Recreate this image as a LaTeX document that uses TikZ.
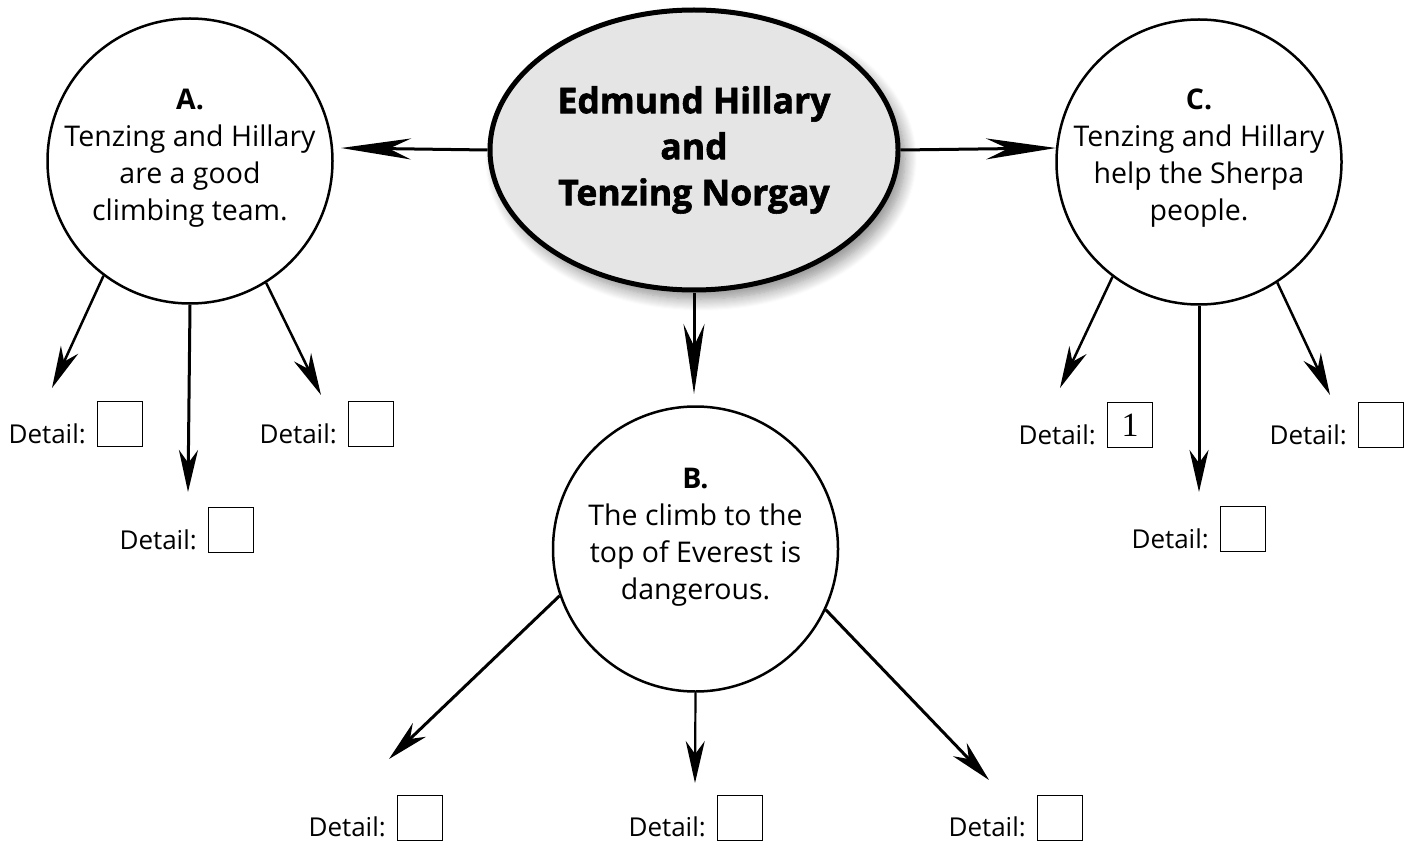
\documentclass[tikz,border=0pt]{standalone}
\usepackage{fontspec}
\setmainfont{Open Sans}
\newfontfamily\titlefont[BoldFeatures={FakeBold=1.6}]{Open Sans}
\newfontfamily\numfont{Liberation Serif}
\usetikzlibrary{arrows.meta,shapes.geometric,shadows.blur}
\begin{document}
\begin{tikzpicture}[x=1pt,y=-1pt,
  bubble/.style={circle, draw, line width=2.5pt, minimum size=285pt, inner sep=0pt, fill=white},
  bubtext/.style={align=center, font=\fontsize{28.5}{37}\selectfont, inner sep=0pt},
  title/.style={ellipse, draw, line width=5pt, fill=black!10, minimum width=408pt, minimum height=280pt, inner sep=0pt,
     align=center, font=\titlefont\fontsize{35.5}{46}\selectfont\bfseries,
     blur shadow={shadow xshift=7pt, shadow yshift=-9pt, shadow blur radius=12pt, shadow blur steps=12, shadow opacity=45}},
  answerbox/.style={draw, line width=1.3pt, minimum size=45pt, inner sep=0pt, anchor=north west},
  detail/.style={anchor=base east, font=\fontsize{26}{30}\selectfont, inner sep=0pt},
  thin/.style={line width=2.5pt, -{Stealth[length=42pt,width=19pt,inset=13pt]}},
  big/.style={line width=3pt, -{Stealth[length=70pt,width=21pt,inset=22pt]}},
  midline/.style={line width=3pt, -{Stealth[length=42pt,width=19pt,inset=13pt]}}]
\useasboundingbox (0,0) rectangle (1412,842);

% title
\node[title] (E) at (694,150) {Edmund Hillary\\and\\Tenzing Norgay};

% bubbles
\node[bubble] (A) at (190,161) {};
\node[bubtext] (At) at (190,158) {\textbf{A.}\\Tenzing and Hillary\\are a good\\climbing team.};
\node[bubble] (C) at (1199,162) {};
\node[bubtext] (Ct) at (1199,158) {\textbf{C.}\\Tenzing and Hillary\\help the Sherpa\\people.};
\node[bubble] (B) at (695.5,549) {};
\node[bubtext] (Bt) at (695.5,537) {\textbf{B.}\\The climb to the\\top of Everest is\\dangerous.};

% arrow tips
\coordinate (tl) at (341,148);
\coordinate (tr) at (1056,148);
\coordinate (td) at (694,394);
\draw[big] (E.west) -- (tl);
\draw[big] (E.east) -- (tr);
\draw[big] (E.south) -- (td);

% A details
\coordinate (a1) at (52,388);
\coordinate (a2) at (188,492);
\coordinate (a3) at (321,395);
\draw[thin] (A.233.4) -- (a1);
\draw[midline] (A.270) -- (a2);
\draw[thin] (A.302.8) -- (a3);
\node[answerbox] (ab1) at (97,401) {};
\node[detail] (ad1) at (86,443) {Detail:};
\node[answerbox] (ab2) at (208,507) {};
\node[detail] (ad2) at (197,549) {Detail:};
\node[answerbox] (ab3) at (348,401) {};
\node[detail] (ad3) at (337,443) {Detail:};

% C details
\coordinate (c1) at (1060,388);
\coordinate (c2) at (1199,492);
\coordinate (c3) at (1330,395);
\draw[thin] (C.233.2) -- (c1);
\draw[midline] (C.270) -- (c2);
\draw[thin] (C.303) -- (c3);
\node[answerbox] (cb1) at (1107,402) {\numfont\fontsize{34}{34}\selectfont 1};
\node[detail] (cd1) at (1096,444) {Detail:};
\node[answerbox] (cb2) at (1220,506) {};
\node[detail] (cd2) at (1209,548) {Detail:};
\node[answerbox] (cb3) at (1358,402) {};
\node[detail] (cd3) at (1347,444) {Detail:};

% B details
\coordinate (b1) at (389,759);
\coordinate (b2) at (695,783);
\coordinate (b3) at (989,780);
\draw[thin, line width=3pt] (B.199.9) -- (b1);
\draw[thin, line width=2.2pt] (B.270) -- (b2);
\draw[thin, line width=3pt] (B.335.9) -- (b3);
\node[answerbox] (bb1) at (397,795) {};
\node[detail] (bd1) at (386,836) {Detail:};
\node[answerbox] (bb2) at (717,795) {};
\node[detail] (bd2) at (706,836) {Detail:};
\node[answerbox] (bb3) at (1037,795) {};
\node[detail] (bd3) at (1026,836) {Detail:};
\end{tikzpicture}
\end{document}
